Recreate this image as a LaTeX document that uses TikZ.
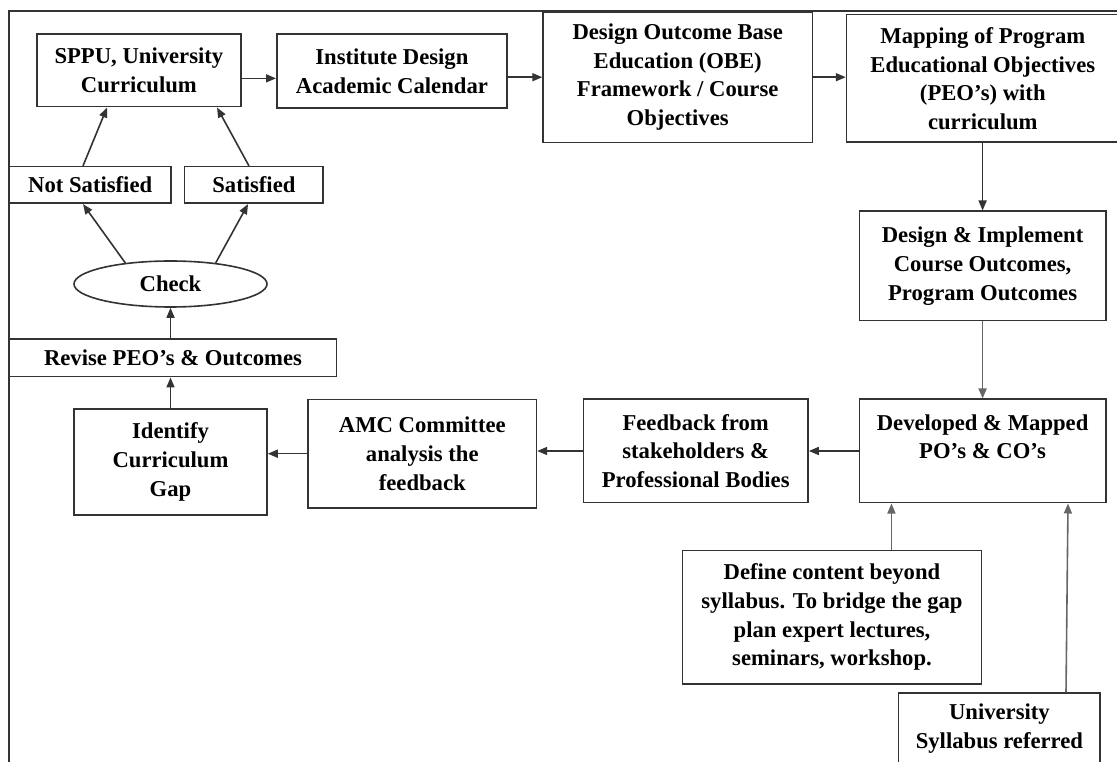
\documentclass[tikz,border=0pt]{standalone}
\usepackage{fontspec}
\setmainfont{Liberation Serif}
\usetikzlibrary{shapes.geometric,arrows.meta}
\begin{document}
\begin{tikzpicture}[x=0.75pt,y=-0.75pt,
  txt/.style={font={\fontsize{17}{21.5}\selectfont\bfseries}, align=center, inner sep=0pt},
  box/.style={txt, draw=black!80, line width=1.2pt, rectangle},
  oval/.style={txt, draw=black!80, line width=1.2pt, ellipse},
  sz/.style 2 args={minimum width=#1*0.75pt, minimum height=#2*0.75pt},
  arr/.style={draw=black!80, line width=1.2pt, -{Triangle[length=7.5pt,width=6pt]}},
  greyarr/.style={arr, draw=black!60},
  frame/.style={draw=black!80, line width=1.5pt}]
\useasboundingbox (0,0) rectangle (1117,762);
% outer frame
\coordinate (fbl) at (8.6,770);
\coordinate (ftl) at (8.6,11);
\coordinate (ftr) at (1125,11);
\draw[frame] (fbl) -- (ftl) -- (ftr);
% nodes
\node[box, sz={204.2}{72.4}] (sppu) at (138.9,70.5) {SPPU, University\\Curriculum};
\node[box, sz={230.2}{74}] (inst) at (391.9,71.3) {Institute Design\\Academic Calendar};
\node[box, sz={269.3}{130.3}] (obe) at (677.7,77.2) {Design Outcome Base\\Education (OBE)\\Framework / Course\\Objectives};
\node[box, sz={272.4}{127.6}] (map) at (982.8,78.5) {Mapping of Program\\Educational Objectives\\(PEO’s) with\\curriculum};
\node[box, sz={246.2}{109.4}] (di) at (982.6,266) {Design \& Implement\\Course Outcomes,\\Program Outcomes};
\node[box, sz={161.1}{36.6}] (ns) at (90.2,185) {Not Satisfied};
\node[box, sz={138.6}{36.6}] (s) at (253.9,185) {Satisfied};
\node[oval, sz={193}{46}] (chk) at (170.5,284) {Check};
\node[box, sz={326.8}{37.4}] (rev) at (173,358) {Revise PEO’s \& Outcomes};
\node[box, sz={193}{106}] (idn) at (170.5,462) {Identify\\Curriculum\\Gap};
\node[box, sz={228.2}{108.7}] (amc) at (422.3,453.7) {AMC Committee\\analysis the\\feedback};
\node[box, sz={224.6}{103.4}] (fb) at (695.7,451) {Feedback from\\stakeholders \&\\Professional Bodies};
\node[box, sz={246.2}{103.4}] (dev) at (982.6,451) {Developed \& Mapped\\PO’s \& CO’s\\\mbox{}};
\node[box, sz={299.3}{133.7}] (def) at (832,617.2) {Define content beyond\\syllabus. To bridge the gap\\plan expert lectures,\\seminars, workshop.};
\node[box, sz={201.7}{70.5}] (uni) at (999.4,728.3) {University\\Syllabus referred};
% connectors
\draw[arr] ([yshift=-5.9pt]sppu.east) coordinate (a1) -- (a1 -| inst.west);
\draw[arr] (inst.east |- obe.west) -- (obe.west);
\draw[arr] (obe.east) -- (obe.east -| map.west);
\draw[arr] (di.north |- map.south) -- (di.north);
\draw[greyarr] (di.south) -- (dev.north);
\draw[arr] (dev.west) -- (dev.west -| fb.east);
\draw[arr] (fb.west) -- (fb.west -| amc.east);
\draw[arr] (amc.west) -- (amc.west -| idn.east);
\draw[arr] (idn.north) -- (idn.north |- rev.south);
\draw[arr] (rev.north -| chk.south) -- (chk.south);
\draw[arr] (chk.155) -- ([xshift=-5.4pt]ns.south);
\draw[arr] (chk.25) -- ([xshift=-4.4pt]s.south);
\draw[arr] ([xshift=-5.4pt]ns.north) -- ([xshift=-23.9pt]sppu.south);
\draw[arr] ([xshift=-3.7pt]s.north) -- ([xshift=58.6pt]sppu.south);
\draw[greyarr] ([xshift=44.6pt]def.north) coordinate (d1) -- (d1 |- dev.south);
\draw[greyarr] ([xshift=49.95pt]uni.north) -- ([xshift=64.05pt]dev.south);
\end{tikzpicture}
\end{document}
